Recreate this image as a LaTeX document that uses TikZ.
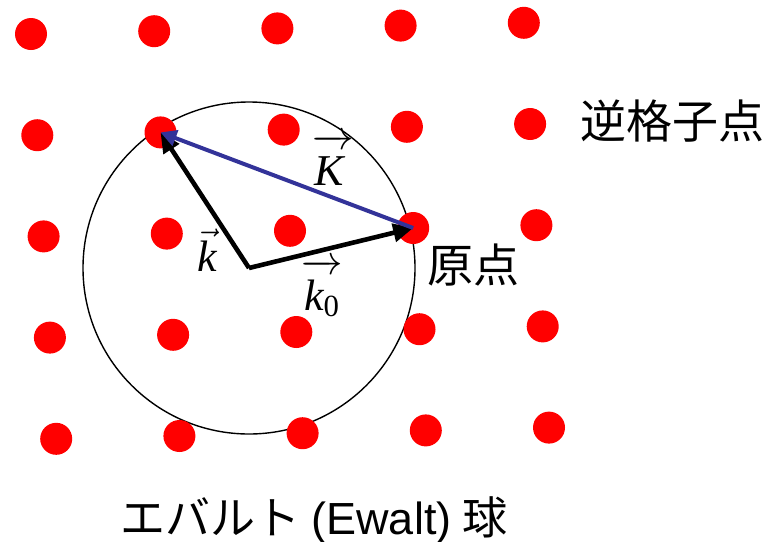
\documentclass[tikz,border=0pt]{standalone}
\usepackage{amsmath}
\usepackage{fontspec}
\setmainfont{Liberation Serif}
\newfontfamily\jpfont{Noto Sans CJK JP}
\newfontfamily\arialfont{Liberation Sans}
\usetikzlibrary{arrows.meta}
\definecolor{latred}{HTML}{FF0000}
\definecolor{kblue}{HTML}{333399}
\newcommand{\vecstrut}{\rule{0pt}{0.82em}}

\begin{document}
\begin{tikzpicture}[x=0.5pt, y=-0.5pt,
  latpt/.style={circle, fill=latred, minimum size=16pt, inner sep=0pt},
  arr/.style={-{Triangle[length=10pt, width=9pt]}, line width=2.3pt},
  karr/.style={-{Triangle[length=8pt, width=8pt]}, line width=2pt, kblue},
  vlbl/.style={font=\fontsize{22}{24}\selectfont, inner sep=0pt},
  jp/.style={font=\jpfont\fontsize{23}{26}\selectfont, inner sep=0pt},
]
\useasboundingbox (0,0) rectangle (774,541);

% ---- Ewald sphere ----
\coordinate (ctr) at (249,268);
\node[draw, circle, line width=0.7pt, minimum size=166pt, inner sep=0pt]
  (ewald) at (ctr) {};

% ---- reciprocal lattice points ----
\foreach \i in {0,...,4}
  \foreach \j in {0,...,4}
    \node[latpt] (p-\i-\j) at ({31+123.2*\i+6.3*\j}, {34-2.8*\i+101.2*\j}) {};

% ---- wave vectors ----
\draw[arr] (ctr) -- (p-3-2.center);
\draw[arr] (ctr) -- (p-1-1.center);
\draw[karr] (p-3-2.center) -- (p-1-1.center);

\node[vlbl] (klbl) at (207,250) {$\vec{\textit{k}}$};
\node[vlbl] (Klbl) at (333,160) {$\overrightarrow{\vecstrut\textit{K}\,}$};
\node[vlbl] (k0lbl) at (322,288) {$\overrightarrow{\vecstrut\textit{k}_{\textrm{0}}}$};

% ---- labels ----
\node[jp] (rlp) at (672,121) {逆格子点};
\node[jp] (orig) at (473,265) {原点};
\node[font=\fontsize{22.5}{26}\selectfont, inner sep=0pt] (title) at (314,520)
  {{\jpfont エバルト} {\arialfont (Ewalt)} {\jpfont 球}};

\end{tikzpicture}
\end{document}
